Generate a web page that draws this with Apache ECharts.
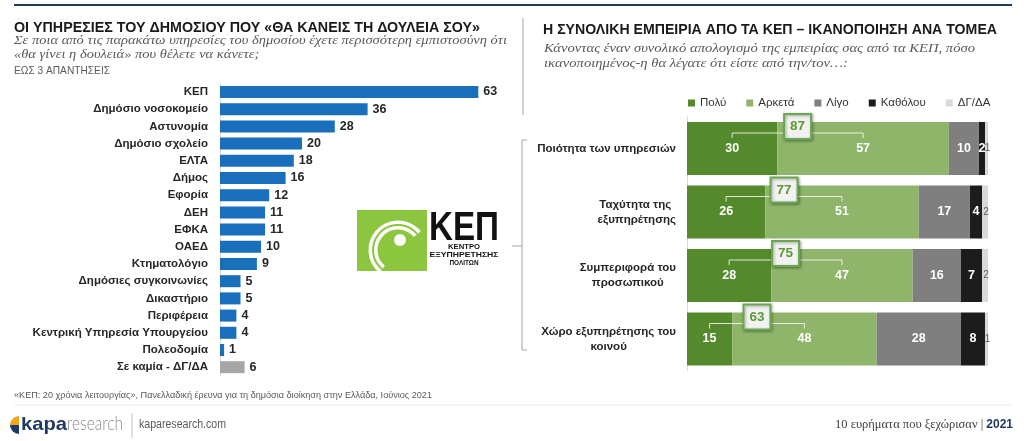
<!DOCTYPE html>
<html><head><meta charset="utf-8">
<script src="https://cdn.jsdelivr.net/npm/echarts@6/dist/echarts.min.js"></script>
<style>html,body{margin:0;padding:0;background:#fff}#c{width:1024px;height:441px}</style>
</head><body><div id="c"></div>
<script>
// ---------- DATA ----------
const serviceCategories = ['ΚΕΠ','Δημόσιο νοσοκομείο','Αστυνομία','Δημόσιο σχολείο','ΕΛΤΑ','Δήμος','Εφορία','ΔΕΗ','ΕΦΚΑ','ΟΑΕΔ','Κτηματολόγιο','Δημόσιες συγκοινωνίες','Δικαστήριο','Περιφέρεια','Κεντρική Υπηρεσία Υπουργείου','Πολεοδομία','Σε καμία - ΔΓ/ΔΑ'];
const serviceValues = [63,36,28,20,18,16,12,11,11,10,9,5,5,4,4,1,6];

const aspectCategories = ['Ποιότητα των υπηρεσιών','Ταχύτητα της \nεξυπηρέτησης','Συμπεριφορά του\nπροσωπικού','Χώρο εξυπηρέτησης του\nκοινού'];
const seriesNames = ['Πολύ','Αρκετά','Λίγο','Καθόλου','ΔΓ/ΔΑ'];
const poly     = [30,26,28,15];
const arketa   = [57,51,47,48];
const ligo     = [10,17,16,28];
const katholou = [2,4,7,8];
const dgda     = [1,2,2,1];
const totals   = [87,77,75,63];

// ---------- helpers ----------
const SANS = '"Liberation Sans", Arial, sans-serif';
const SERIF = '"Liberation Serif", "Times New Roman", serif';
const mctx = document.createElement('canvas').getContext('2d');
function fit(text, font, w){ mctx.font = font; return w / mctx.measureText(text).width; }
function txt(text, x, y, font, fill, width, align){
  const s = width ? fit(text, font, width) : 1;
  return {type:'text', x:x, y:y, scaleX:s, silent:true,
    style:{text:text, x:0, y:0, font:font, fill:fill, align:align || 'left', verticalAlign:'middle'}};
}

const chart = echarts.init(document.getElementById('c'), null, {renderer:'canvas'});

const segColors = ['#548a2c','#8fb56a','#7f7f7f','#1c1c1c','#d9d9d9'];
const segData = [poly, arketa, ligo, katholou, dgda];

const stackSeries = seriesNames.map((name, k) => ({
  name: name, type:'bar', stack:'sat', xAxisIndex:1, yAxisIndex:1,
  barWidth:53, data: segData[k],
  itemStyle:{color:segColors[k]},
  label:{show:true, position:'inside',
    color: k === 4 ? '#595959' : '#fff',
    fontWeight: k === 4 ? 'normal' : 'bold',
    fontSize: k === 4 ? 10 : 12.5, fontFamily:SANS,
    offset: k === 4 ? [1,0] : [0,0]}
}));

const titleFont = 'bold 15.5px ' + SANS;
const subFont = 'italic 13px ' + SERIF;
const leftSub1 = 'Σε ποια από τις παρακάτω υπηρεσίες του δημοσίου έχετε περισσότερη εμπιστοσύνη ότι';
const leftSub2 = '«θα γίνει η δουλειά» που θέλετε να κάνετε;';
const rightSub1 = 'Κάνοντας έναν συνολικό απολογισμό της εμπειρίας σας από τα ΚΕΠ, πόσο';
const rightSub2 = 'ικανοποιημένος-η θα λέγατε ότι είστε από την/τον…:';
const lsx = fit(leftSub1, subFont, 493);
const rsx = fit(rightSub1, subFont, 431);
const srcText = '«ΚΕΠ: 20 χρόνια λειτουργίας», Πανελλαδική έρευνα για τη δημόσια διοίκηση στην Ελλάδα, Ιούνιος 2021';

const graphics = [
  {type:'line', silent:true, shape:{x1:14,y1:5,x2:1012,y2:5}, style:{stroke:'#1f3864', lineWidth:2}},
  txt('ΟΙ ΥΠΗΡΕΣΙΕΣ ΤΟΥ ΔΗΜΟΣΙΟΥ ΠΟΥ «ΘΑ ΚΑΝΕΙΣ ΤΗ ΔΟΥΛΕΙΑ ΣΟΥ»', 14, 28, titleFont, '#1a1a1a', 466),
  {type:'text', x:14, y:41, scaleX:lsx, silent:true, style:{text:leftSub1, x:0,y:0, font:subFont, fill:'#595959', verticalAlign:'middle'}},
  {type:'text', x:14, y:55, scaleX:lsx, silent:true, style:{text:leftSub2, x:0,y:0, font:subFont, fill:'#595959', verticalAlign:'middle'}},
  txt('ΕΩΣ 3 ΑΠΑΝΤΗΣΕΙΣ', 14, 71, '11px ' + SANS, '#595959', 96),
  {type:'line', silent:true, shape:{x1:523,y1:18,x2:523,y2:115}, style:{stroke:'#a6a6a6', lineWidth:1}},
  txt('Η ΣΥΝΟΛΙΚΗ ΕΜΠΕΙΡΙΑ ΑΠΟ ΤΑ ΚΕΠ – ΙΚΑΝΟΠΟΙΗΣΗ ΑΝΑ ΤΟΜΕΑ', 543, 30, titleFont, '#1a1a1a', 454),
  {type:'text', x:544, y:49, scaleX:rsx, silent:true, style:{text:rightSub1, x:0,y:0, font:subFont, fill:'#595959', verticalAlign:'middle'}},
  {type:'text', x:544, y:64, scaleX:rsx, silent:true, style:{text:rightSub2, x:0,y:0, font:subFont, fill:'#595959', verticalAlign:'middle'}},
  // bracket
  {type:'polyline', silent:true, shape:{points:[[527,140],[522,140],[522,350],[527,350]]}, style:{stroke:'#a6a6a6', lineWidth:1, fill:null}},
  {type:'line', silent:true, shape:{x1:512,y1:246,x2:522,y2:246}, style:{stroke:'#a6a6a6', lineWidth:1}},
  // KEP logo
  {type:'rect', silent:true, shape:{x:357,y:210,width:70,height:61}, style:{fill:'#8cc63f'}},
  {type:'arc', silent:true, shape:{cx:398,cy:250,r:25,startAngle:Math.PI*0.72,endAngle:Math.PI*1.78}, style:{stroke:'#fff', lineWidth:9, fill:null}},
  {type:'circle', silent:true, shape:{cx:400,cy:240,r:6}, style:{fill:'#fff'}},
  {type:'arc', silent:true, shape:{cx:398,cy:250,r:25,startAngle:Math.PI*0.72,endAngle:Math.PI*1.78}, style:{stroke:'#8cc63f', lineWidth:2, fill:null}},
  txt('ΚΕΠ', 429, 229, 'bold 40px ' + SANS, '#111', 70),
  txt('ΚΕΝΤΡΟ', 464, 247, 'bold 7px ' + SANS, '#111', 32, 'center'),
  txt('ΕΞΥΠΗΡΕΤΗΣΗΣ', 464, 255, 'bold 7px ' + SANS, '#111', 69, 'center'),
  txt('ΠΟΛΙΤΩΝ', 464, 263, 'bold 7px ' + SANS, '#111', 29, 'center'),
  // footer
  txt(srcText, 14, 396, '9px ' + SANS, '#595959', 418),
  {type:'line', silent:true, shape:{x1:14,y1:405,x2:1012,y2:405}, style:{stroke:'#eeeeee', lineWidth:1}},
  {type:'sector', silent:true, shape:{cx:19,cy:425,r:9,r0:0,startAngle:Math.PI,endAngle:Math.PI*1.5}, style:{fill:'#f0a81c'}},
  {type:'sector', silent:true, shape:{cx:19,cy:425,r:9,r0:0,startAngle:Math.PI*0.5,endAngle:Math.PI}, style:{fill:'#1f3864'}},
  txt('kapa', 21, 425, 'bold 19px ' + SANS, '#1f3864', 46),
  txt('research', 67, 424, '300 19px Lato, ' + SANS, '#8c8c8c', 56),
  {type:'line', silent:true, shape:{x1:132,y1:413,x2:132,y2:438}, style:{stroke:'#bfbfbf', lineWidth:1}},
  txt('kaparesearch.com', 139, 425, '12px ' + SANS, '#595959', 87),
  {type:'text', x:1013, y:425, silent:true, style:{
    text:'{a|10 ευρήματα που ξεχώρισαν | }{b|2021}', x:0, y:0, align:'right', verticalAlign:'middle',
    rich:{a:{font:'12.5px ' + SERIF, fill:'#404040'}, b:{font:'12.5px ' + SERIF, fill:'#1f3864', fontWeight:'bold'}}}}
];

const option = {
  animation:false,
  textStyle:{fontFamily:SANS},
  legend:{data:seriesNames, left:688, top:97, itemWidth:7, itemHeight:7, itemGap:20, icon:'rect', padding:0,
    textStyle:{fontSize:11.5, color:'#333', fontFamily:SANS}, selectedMode:false},
  grid:[
    {left:220, top:83.4, width:287, height:292.4, containLabel:false},
    {left:687, top:116.75, width:301, height:254, containLabel:false}
  ],
  xAxis:[
    {gridIndex:0, type:'value', min:0, max:70, show:false},
    {gridIndex:1, type:'value', min:0, max:100, show:false}
  ],
  yAxis:[
    {gridIndex:0, type:'category', inverse:true, data:serviceCategories,
      axisLine:{show:true, lineStyle:{color:'#d9d9d9'}}, axisTick:{show:false},
      axisLabel:{margin:12, fontSize:11.5, fontWeight:'bold', color:'#262626', fontFamily:SANS}},
    {gridIndex:1, type:'category', inverse:true, data:aspectCategories,
      axisLine:{show:true, lineStyle:{color:'#d9d9d9'}}, axisTick:{show:false},
      axisLabel:{margin:11, align:'right', lineHeight:15,
        formatter: v => v.split('\n').map(l => '{c|' + l + '}').join('\n'),
        rich:{c:{align:'center', fontSize:11.5, fontWeight:'bold', color:'#262626', fontFamily:SANS, lineHeight:15}}}}
  ],
  series:[
    {type:'bar', name:'services', xAxisIndex:0, yAxisIndex:0, barWidth:12,
      data: serviceValues.map((v,i) => ({value:v, itemStyle:{color: i === serviceValues.length-1 ? '#a6a6a6' : '#1a6fbd'}})),
      label:{show:true, position:'right', distance:5, fontSize:12.5, fontWeight:'bold', color:'#262626', fontFamily:SANS}},
    ...stackSeries,
    {type:'custom', name:'totals', xAxisIndex:1, yAxisIndex:1, z:10,
      data: totals.map((t,i) => [poly[i], arketa[i], t, i]),
      encode:{x:0, y:3},
      renderItem:(params, api) => {
        const p = api.value(0), a = api.value(1), t = api.value(2), cat = api.value(3);
        const c1 = api.coord([p/2, cat]);
        const c2 = api.coord([p + a/2, cat]);
        const top = c1[1] - 26.5;
        const mx = (c1[0] + c2[0]) / 2;
        const ly = top + 11;
        return {type:'group', children:[
          {type:'polyline', shape:{points:[[c1[0],ly+5],[c1[0],ly],[c2[0],ly],[c2[0],ly+5]]},
            style:{stroke:'rgba(255,255,255,0.8)', lineWidth:1, fill:null}},
          {type:'rect', shape:{x:mx-13.5, y:top-8, width:27, height:25},
            style:{fill:'#f2f2f2', stroke:'#6aa84f', lineWidth:2, shadowBlur:3, shadowColor:'rgba(0,0,0,0.35)', shadowOffsetX:1, shadowOffsetY:1}},
          {type:'text', style:{text:String(t), x:mx, y:top+4.5, align:'center', verticalAlign:'middle',
            fill:'#5b9a32', font:'bold 13.5px ' + SANS}}
        ]};
      }}
  ],
  graphic: graphics
};
chart.setOption(option);
</script></body></html>
